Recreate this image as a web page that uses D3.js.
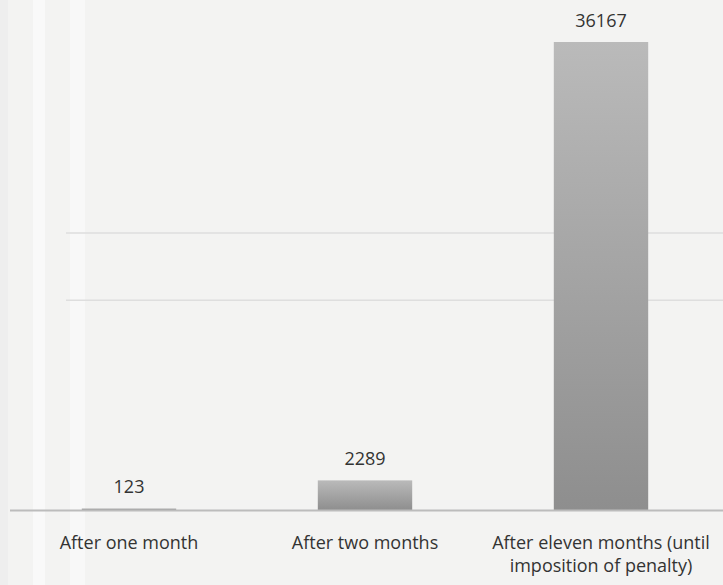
<!DOCTYPE html>
<html>
<head>
<meta charset="utf-8">
<script src="https://cdn.jsdelivr.net/npm/d3@7"></script>
<style>
  body { margin: 0; background: #f3f3f2; }
  svg { display: block; }
</style>
</head>
<body>
<svg id="chart"></svg>
<script>
// data
var categories = ["After one month", "After two months", "After eleven months (until imposition of penalty)"]
var labelLines = [["After one month"], ["After two months"], ["After eleven months (until", "imposition of penalty)"]]
var values = [123, 2289, 36167]
var gridValues = [16200, 21400]

var dimensions = {
    width: 723,
    height: 585,
    margin: { top: 42, bottom: 75, left: 11, right: 4 }
}

var svg = d3.select("#chart")
            .attr("width", dimensions.width)
            .attr("height", dimensions.height)

// scanned page background with light vertical streaks
svg.append("rect")
   .attr("width", dimensions.width)
   .attr("height", dimensions.height)
   .style("fill", "#f3f3f2")
svg.append("rect").attr("x", 33).attr("width", 12).attr("height", dimensions.height).style("fill", "#f9f9f9")
svg.append("rect").attr("x", 70).attr("width", 15).attr("height", dimensions.height).style("fill", "#f8f8f8")
svg.append("rect").attr("x", 0).attr("width", 8).attr("height", dimensions.height).style("fill", "#eeeeee")

var baseY = dimensions.height - dimensions.margin.bottom

var xScale = d3.scaleBand()
               .domain(categories)
               .range([dimensions.margin.left, dimensions.width - dimensions.margin.right])
               .paddingInner(0.6)
               .paddingOuter(0.3)

var yScale = d3.scaleLinear()
               .domain([0, d3.max(values)])
               .range([baseY, dimensions.margin.top])

var defs = svg.append("defs")
var grad = defs.append("linearGradient")
               .attr("id", "barFill")
               .attr("x1", 0).attr("y1", 0).attr("x2", 0).attr("y2", 1)
grad.append("stop").attr("offset", "0%").attr("stop-color", "#bababa")
grad.append("stop").attr("offset", "100%").attr("stop-color", "#8e8e8e")

// faint gridlines
svg.append("g")
   .selectAll("line")
   .data(gridValues)
   .enter()
   .append("line")
   .attr("x1", 66)
   .attr("x2", dimensions.width)
   .attr("y1", d => yScale(d))
   .attr("y2", d => yScale(d))
   .style("stroke", "#dedede")
   .style("stroke-width", 1.5)

// bars
svg.append("g")
   .selectAll("rect")
   .data(values)
   .enter()
   .append("rect")
   .attr("x", (d, i) => xScale(categories[i]))
   .attr("width", xScale.bandwidth())
   .attr("y", d => yScale(d))
   .attr("height", d => baseY - yScale(d))
   .style("fill", "url(#barFill)")

// baseline
svg.append("line")
   .attr("x1", 10)
   .attr("x2", dimensions.width)
   .attr("y1", baseY + 0.5)
   .attr("y2", baseY + 0.5)
   .style("stroke", "#bcbcbc")
   .style("stroke-width", 2)

// value labels
svg.append("g")
   .selectAll("text")
   .data(values)
   .enter()
   .append("text")
   .attr("x", (d, i) => xScale(categories[i]) + xScale.bandwidth() / 2)
   .attr("y", d => yScale(d) - 15)
   .attr("text-anchor", "middle")
   .style("font-family", "'Open Sans', sans-serif")
   .style("font-size", "18px")
   .style("fill", "#333")
   .text(d => d)

// category labels
var cats = svg.append("g")
              .selectAll("text")
              .data(labelLines)
              .enter()
              .append("text")
              .attr("x", (d, i) => xScale(categories[i]) + xScale.bandwidth() / 2)
              .attr("y", baseY + 39)
              .attr("text-anchor", "middle")
              .style("font-family", "'Open Sans', sans-serif")
              .style("font-size", "18px")
              .style("fill", "#333")

cats.selectAll("tspan")
    .data((d, i) => d.map(t => ({ t: t, x: xScale(categories[i]) + xScale.bandwidth() / 2 })))
    .enter()
    .append("tspan")
    .attr("x", d => d.x)
    .attr("dy", (d, j) => j == 0 ? 0 : 23)
    .text(d => d.t)
</script>
</body>
</html>
